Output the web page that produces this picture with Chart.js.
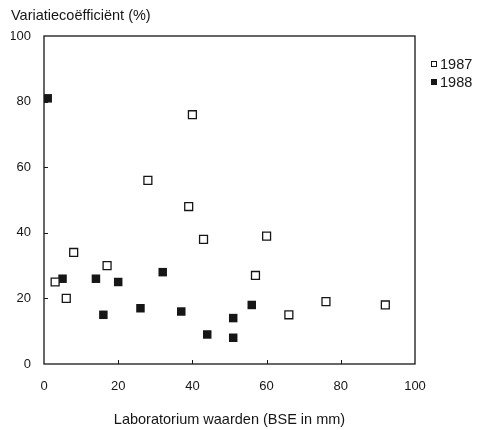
<!DOCTYPE html>
<html>
<head>
<meta charset="utf-8">
<script src="https://cdn.jsdelivr.net/npm/chart.js@4"></script>
<style>
  html, body { margin: 0; padding: 0; background: #fff; }
  #wrap { width: 478px; height: 430px; }
</style>
</head>
<body>
<div id="wrap"><canvas id="chart" width="478" height="430"></canvas></div>
<script>
// Data
const seriesNames = ['1987', '1988'];
const x1987 = [3, 6, 8, 17, 28, 39, 40, 43, 57, 60, 66, 76, 92];
const y1987 = [25, 20, 34, 30, 56, 48, 76, 38, 27, 39, 15, 19, 18];
const x1988 = [1, 5, 14, 16, 20, 26, 32, 37, 44, 51, 51, 56];
const y1988 = [81, 26, 26, 15, 25, 17, 28, 16, 9, 14, 8, 18];
const xTicks = [0, 20, 40, 60, 80, 100];
const yTicks = [0, 20, 40, 60, 80, 100];

const ink = '#161616';
const fontFam = '"Liberation Sans", Arial, sans-serif';

function toPoints(xs, ys) {
    return xs.map((x, i) => ({ x: x, y: ys[i] }));
}

// frame, inward ticks and legend
const framePlugin = {
    id: 'frame',
    afterDraw(chart) {
        const { ctx, chartArea: a, scales } = chart;
        ctx.save();
        ctx.strokeStyle = ink;
        ctx.lineWidth = 1.3;
        ctx.strokeRect(a.left, a.top, a.right - a.left, a.bottom - a.top);

        ctx.lineWidth = 1;
        xTicks.slice(1, -1).forEach(v => {
            const px = Math.round(scales.x.getPixelForValue(v)) + 0.5;
            ctx.beginPath();
            ctx.moveTo(px, a.bottom);
            ctx.lineTo(px, a.bottom - 4);
            ctx.stroke();
        });
        yTicks.slice(1, -1).forEach(v => {
            const py = Math.round(scales.y.getPixelForValue(v)) + 0.5;
            ctx.beginPath();
            ctx.moveTo(a.left, py);
            ctx.lineTo(a.left + 4, py);
            ctx.stroke();
        });

        // legend
        const rows = [64, 82];
        ctx.font = '14.5px ' + fontFam;
        ctx.textBaseline = 'middle';
        chart.data.datasets.forEach((ds, i) => {
            const y = rows[i];
            ctx.fillStyle = ds.backgroundColor;
            ctx.fillRect(431, y - 3, 6, 6);
            ctx.strokeStyle = ink;
            ctx.lineWidth = 1;
            ctx.strokeRect(431.5, y - 2.5, 5, 5);
            ctx.fillStyle = ink;
            ctx.fillText(ds.label, 440, y + 0.5);
        });
        ctx.restore();
    }
};

new Chart(document.getElementById('chart'), {
    type: 'scatter',
    data: {
        datasets: [
            {
                label: seriesNames[0],
                data: toPoints(x1987, y1987),
                pointStyle: 'rect',
                pointRadius: 5.6,
                pointHoverRadius: 5.6,
                backgroundColor: '#ffffff',
                borderColor: ink,
                borderWidth: 1.3
            },
            {
                label: seriesNames[1],
                data: toPoints(x1988, y1988),
                pointStyle: 'rect',
                pointRadius: 6,
                pointHoverRadius: 6,
                backgroundColor: ink,
                borderColor: ink,
                borderWidth: 0
            }
        ]
    },
    options: {
        responsive: false,
        animation: false,
        layout: { padding: { left: 11, right: 63, top: 0, bottom: 0 } },
        plugins: {
            legend: { display: false },
            tooltip: { enabled: false },
            title: {
                display: true,
                text: 'Variatiecoëfficiënt (%)',
                align: 'start',
                color: ink,
                font: { family: fontFam, size: 14.5, weight: 'normal' },
                padding: { top: 7, bottom: 11.6 }
            }
        },
        scales: {
            x: {
                type: 'linear',
                min: 0,
                max: 100,
                afterBuildTicks: s => { s.ticks = xTicks.map(v => ({ value: v })); },
                afterFit: s => { s.height = 66; },
                grid: { display: false, drawTicks: false },
                border: { display: false },
                ticks: {
                    color: ink,
                    padding: 15,
                    font: { family: fontFam, size: 13 }
                },
                title: {
                    display: true,
                    text: 'Laboratorium waarden (BSE in mm)',
                    color: ink,
                    font: { family: fontFam, size: 14.5 },
                    padding: { top: 0, bottom: 1 }
                }
            },
            y: {
                type: 'linear',
                min: 0,
                max: 100,
                afterBuildTicks: s => { s.ticks = yTicks.map(v => ({ value: v })); },
                afterFit: s => { s.width = 33; },
                grid: { display: false, drawTicks: false },
                border: { display: false },
                ticks: {
                    color: ink,
                    padding: 13,
                    font: { family: fontFam, size: 13 }
                }
            }
        }
    },
    plugins: [framePlugin]
});
</script>
</body>
</html>
